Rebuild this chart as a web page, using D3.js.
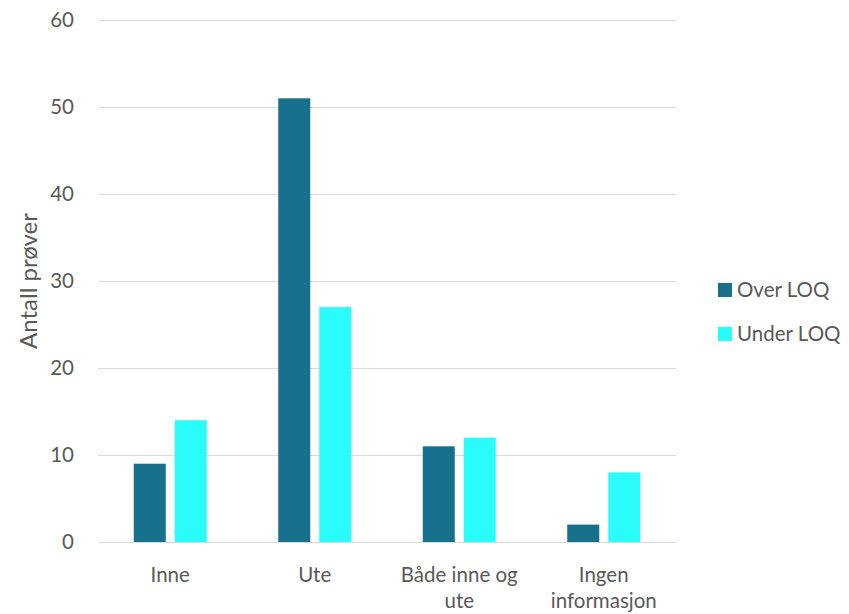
<!DOCTYPE html>
<html>
<head>
<meta charset="utf-8">
<script src="https://cdn.jsdelivr.net/npm/d3@7"></script>
<style>
  html, body { margin: 0; padding: 0; background: #fff; }
  svg { display: block; font-family: "Lato", "Open Sans", sans-serif; }
</style>
</head>
<body>
<svg id="chart" width="849" height="614"></svg>
<script>
// Sample counts by location, split by whether the result was above the LOQ
const categories = [["Inne"], ["Ute"], ["Både inne og", "ute"], ["Ingen", "informasjon"]];
const seriesNames = ["Over LOQ", "Under LOQ"];
const overLOQ = [9, 51, 11, 2];
const underLOQ = [14, 27, 12, 8];
const yTicks = [0, 10, 20, 30, 40, 50, 60];
const colors = ["#17708C", "#2AFCFC"];

const svg = d3.select("#chart");
const plot = { left: 98, right: 676, top: 20, bottom: 542 };
const textColor = "#595959";
const fs = 20.5;

const x = d3.scaleBand()
  .domain(d3.range(categories.length))
  .range([plot.left, plot.right])
  .paddingInner(0)
  .paddingOuter(0);

const barW = 32, gap = 9;

const y = d3.scaleLinear().domain([0, 60]).range([plot.bottom, plot.top]);

// Horizontal gridlines
svg.append("g")
  .selectAll("line")
  .data(yTicks)
  .join("line")
  .attr("x1", plot.left)
  .attr("x2", plot.right)
  .attr("y1", d => Math.round(y(d)) + 0.5)
  .attr("y2", d => Math.round(y(d)) + 0.5)
  .attr("stroke", "#d9d9d9")
  .attr("stroke-width", 1);

// Y tick labels
svg.append("g")
  .selectAll("text")
  .data(yTicks)
  .join("text")
  .attr("x", 74)
  .attr("y", d => y(d))
  .attr("dy", "0.36em")
  .attr("text-anchor", "end")
  .attr("fill", textColor)
  .attr("font-size", fs)
  .text(d => d);

// Y axis title
svg.append("text")
  .attr("transform", `translate(37, ${281}) rotate(-90)`)
  .attr("text-anchor", "middle")
  .attr("fill", textColor)
  .attr("font-size", 24)
  .text("Antall prøver");

// Bars
const series = [overLOQ, underLOQ];
series.forEach((vals, si) => {
  svg.append("g")
    .selectAll("rect")
    .data(vals)
    .join("rect")
    .attr("x", (d, i) => {
      const c = x(i) + x.bandwidth() / 2;
      return si === 0 ? c - gap / 2 - barW : c + gap / 2;
    })
    .attr("width", barW)
    .attr("y", d => y(d))
    .attr("height", d => y(0) - y(d))
    .attr("fill", colors[si]);
});

// Category labels (may wrap onto two lines)
const catG = svg.append("g")
  .selectAll("text")
  .data(categories)
  .join("text")
  .attr("x", (d, i) => x(i) + x.bandwidth() / 2)
  .attr("y", 582)
  .attr("text-anchor", "middle")
  .attr("fill", textColor)
  .attr("font-size", fs);
catG.selectAll("tspan")
  .data(d => d)
  .join("tspan")
  .attr("x", function () { return d3.select(this.parentNode).attr("x"); })
  .attr("dy", (d, j) => j === 0 ? 0 : 26)
  .text(d => d);

// Legend
const legend = svg.append("g")
  .selectAll("g")
  .data(seriesNames)
  .join("g")
  .attr("transform", (d, i) => `translate(718, ${283 + i * 44})`);
legend.append("rect")
  .attr("width", 14)
  .attr("height", 14)
  .attr("fill", (d, i) => colors[i]);
legend.append("text")
  .attr("x", 19)
  .attr("y", 7)
  .attr("dy", "0.36em")
  .attr("fill", textColor)
  .attr("font-size", fs)
  .text(d => d);
</script>
</body>
</html>
